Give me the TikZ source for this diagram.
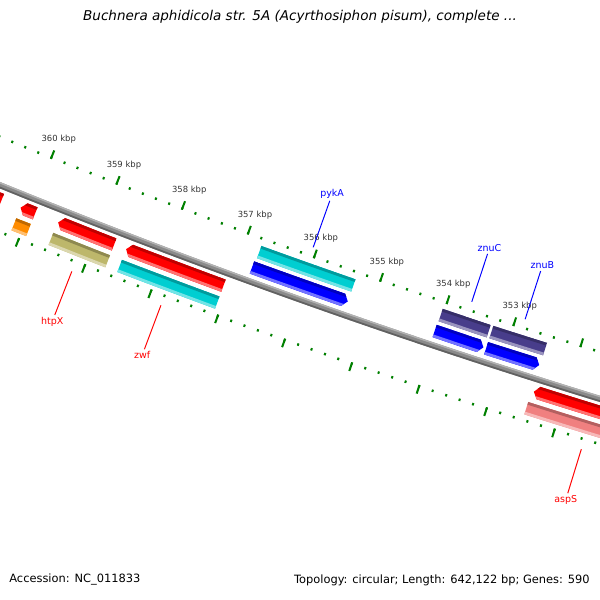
\documentclass[tikz,border=0pt]{standalone}
\usepackage{fontspec}
\setmainfont{DejaVu Sans}

\definecolor{tickgreen}{RGB}{0,128,0}
\definecolor{cdsred}{RGB}{255,0,0}
\definecolor{cdsblue}{RGB}{0,0,255}
\definecolor{cogcyan}{RGB}{0,206,209}
\definecolor{cognavy}{RGB}{72,61,139}
\definecolor{cogolive}{RGB}{189,183,107}
\definecolor{cogorange}{RGB}{255,140,0}
\definecolor{cogpink}{RGB}{240,128,128}
\definecolor{bbgray}{RGB}{138,138,138}

% ring piece between two kbp positions and two radii
\newcommand\band[4]{({ang(#1)}:{#3}) arc[start angle={ang(#1)}, end angle={ang(#2)}, radius={#3}]
  -- ({ang(#2)}:{#4}) arc[start angle={ang(#2)}, end angle={ang(#1)}, radius={#4}] -- cycle}
% gene: colour, blunt end, neck, tip (kbp), inner r, outer r
\newcommand\gene[6]{%
  \def\genepath{({ang(#2)}:{#5}) arc[start angle={ang(#2)}, end angle={ang(#3)}, radius={#5}]
    -- ({ang(#4)}:{(#5+#6)/2}) -- ({ang(#3)}:{#6})
    arc[start angle={ang(#3)}, end angle={ang(#2)}, radius={#6}] -- cycle}
  \fill[#1] \genepath;
  \begin{scope}
    \clip \genepath;
    \fill[#1!75!black] \band{#2}{#4}{#5}{#5+2.8};
    \fill[#1!55!white] \band{#2}{#4}{#6-2.8}{#6};
  \end{scope}}

\tikzset{
  smalltick/.style={draw=tickgreen, line width=1.15pt},
  bigtick/.style={draw=tickgreen, line width=1.15pt},
  ticklbl/.style={font=\fontsize{4.8}{5}\selectfont, text=black!80, inner sep=0pt},
  fwdlbl/.style={font=\fontsize{5.4}{6}\selectfont, text=red, inner sep=1pt},
  revlbl/.style={font=\fontsize{5.4}{6}\selectfont, text=blue, inner sep=1pt},
  fwdlead/.style={draw=red, line width=0.55pt},
  revlead/.style={draw=blue, line width=0.55pt},
  footlbl/.style={font=\fontsize{6.5}{7}\selectfont, inner sep=0pt},
  titlelbl/.style={font=\fontsize{7.7}{8}\selectfont\itshape, inner sep=0pt}
}

\begin{document}
\begin{tikzpicture}[x=0.02cm, y=0.02cm,
    declare function={ang(\p)=248.17+(360-\p)*0.56064;}]
  \useasboundingbox (0,0) rectangle (600,-600);
  \fill[white] (0,0) rectangle (600,-600);
  \clip (0,0) rectangle (600,-600);

  \begin{scope}[shift={(2721,6507)}]
    % backbone
    \fill[bbgray] \band{361.8}{349.8}{7221.5}{7227.5};
    \fill[black!30] \band{361.8}{349.8}{7221.5}{7223};
    \fill[black!62] \band{361.8}{349.8}{7225.8}{7227.5};

    % ruler inside and outside
    \foreach \i in {1748,...,1810} {
      \draw[smalltick] ({ang(\i/5)}:7181) -- ({ang(\i/5)}:7178.5);
      \draw[smalltick] ({ang(\i/5)}:7266.5) -- ({ang(\i/5)}:7269);
    }
    \foreach \k in {349,...,362} {
      \draw[bigtick] ({ang(\k)}:7181) -- ({ang(\k)}:7172);
      \draw[bigtick] ({ang(\k)}:7266.5) -- ({ang(\k)}:7275.5);
    }
    \foreach \k in {353,...,360}
      \node[ticklbl] (kbp\k) at ({ang(\k)}:7160) {\k\ kbp};

    % reverse strand, COG slot
    \gene{cogcyan}{356.76}{355.34}{355.34}{7187}{7200}
    \gene{cognavy}{354.03}{353.31}{353.31}{7187}{7200}
    \gene{cognavy}{353.27}{352.47}{352.47}{7187}{7200}
    % reverse strand, CDS slot
    \gene{cdsblue}{356.78}{355.41}{355.34}{7204}{7217}
    \gene{cdsblue}{354.04}{353.38}{353.31}{7204}{7217}
    \gene{cdsblue}{353.27}{352.55}{352.48}{7204}{7217}
    % forward strand, CDS slot
    \gene{cdsred}{350.4}{352.37}{352.44}{7231}{7244}
    \gene{cdsred}{357.07}{358.47}{358.54}{7231}{7244}
    \gene{cdsred}{358.72}{359.50}{359.57}{7231}{7244}
    \gene{cdsred}{359.92}{360.07}{360.14}{7231}{7244}
    \gene{cdsred}{360.43}{361.6}{361.67}{7231}{7244}
    % forward strand, COG slot
    \gene{cogpink}{350.4}{352.47}{352.47}{7249}{7262}
    \gene{cogcyan}{357.07}{358.54}{358.54}{7249}{7262}
    \gene{cogolive}{358.72}{359.58}{359.58}{7249}{7262}
    \gene{cogorange}{359.92}{360.14}{360.14}{7249}{7262}

    % gene labels
    \node[revlbl] (pykA) at ({ang(356.06)}:7114.5) {pykA};
    \node[revlbl] (znuC) at ({ang(353.67)}:7114.5) {znuC};
    \node[revlbl] (znuB) at ({ang(352.87)}:7114.5) {znuB};
    \node[fwdlbl] (htpX) at ({ang(359.14)}:7332) {htpX};
    \node[fwdlbl] (zwf) at ({ang(357.8)}:7331) {zwf};
    \node[fwdlbl] (aspS) at ({ang(351.56)}:7331) {aspS};
    \coordinate (pykAend) at ({ang(356.06)}:7171);
    \coordinate (znuCend) at ({ang(353.67)}:7171);
    \coordinate (znuBend) at ({ang(352.87)}:7171);
    \coordinate (htpXend) at ({ang(359.14)}:7278);
    \coordinate (zwfend) at ({ang(357.8)}:7278);
    \coordinate (aspSend) at ({ang(351.56)}:7278);
    \draw[revlead] (pykAend) -- (pykA);
    \draw[revlead] (znuCend) -- (znuC);
    \draw[revlead] (znuBend) -- (znuB);
    \draw[fwdlead] (htpXend) -- (htpX);
    \draw[fwdlead] (zwfend) -- (zwf);
    \draw[fwdlead] (aspSend) -- (aspS);
  \end{scope}

  \node[titlelbl] (title) at (300,-17) {Buchnera aphidicola str. 5A (Acyrthosiphon pisum), complete ...};
  \node[footlbl, anchor=west] (accession) at (9,-580) {Accession: NC\_011833};
  \node[footlbl, anchor=east] (topology) at (590,-580) {Topology: circular; Length: 642,122 bp; Genes: 590};
\end{tikzpicture}
\end{document}
